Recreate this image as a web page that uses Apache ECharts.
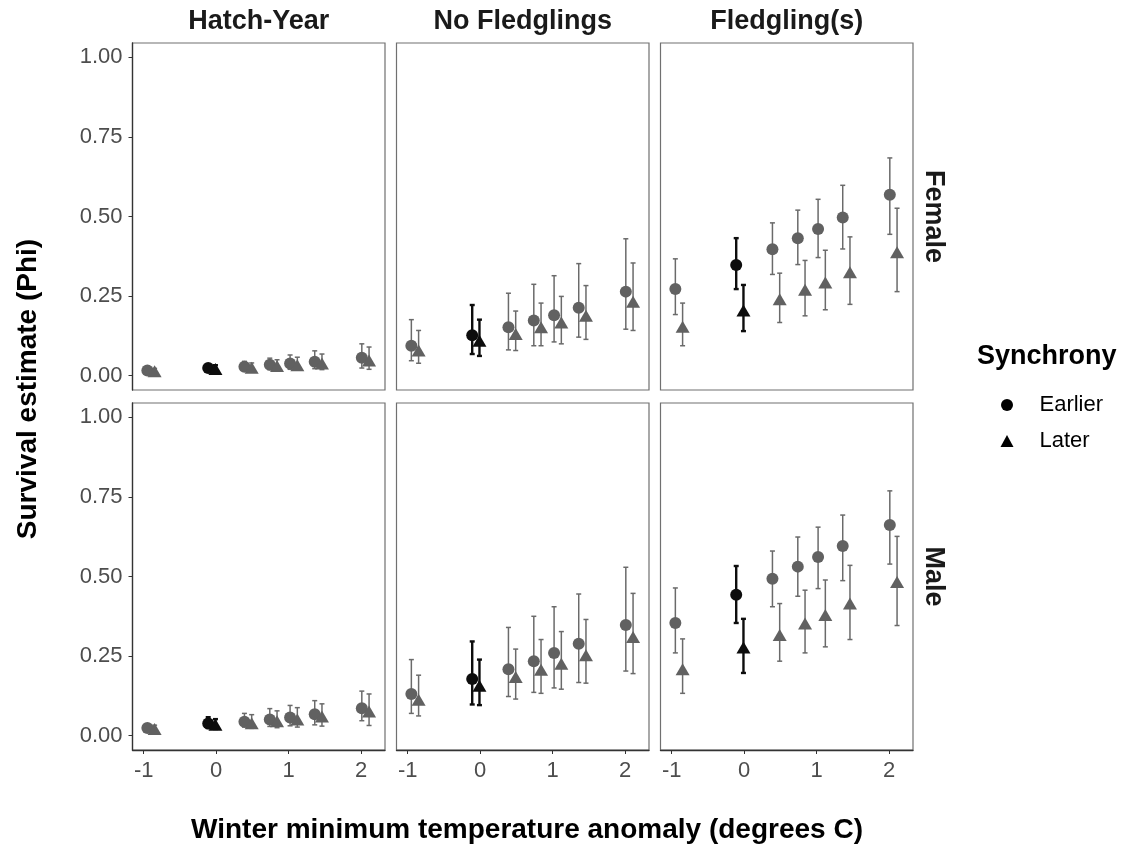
<!DOCTYPE html>
<html>
<head>
<meta charset="utf-8">
<title>Survival estimate by winter temperature</title>
<script src="https://cdn.jsdelivr.net/npm/echarts@6/dist/echarts.min.js"></script>
<style>
  html, body { margin: 0; padding: 0; background: #fff; }
  #chart { width: 1143px; height: 852px; }
</style>
</head>
<body>
<div id="chart"></div>
<script>
// winter minimum temperature anomaly for each estimate (before dodging)
const temperature = [-0.9, -0.06, 0.44, 0.79, 1.07, 1.41, 2.06]
const highlightIndex = 1 // the darker estimate near 0
const columns = ['Hatch-Year', 'No Fledglings', 'Fledgling(s)']
const rows = ['Female', 'Male']
const xTicks = [-1, 0, 1, 2]
const yTicks = [0, 0.25, 0.5, 0.75, 1]

// [estimate, lower, upper]
const femaleHatchEarlier = [[0.016, 0.010, 0.025], [0.024, 0.015, 0.036], [0.028, 0.017, 0.045], [0.034, 0.019, 0.055], [0.038, 0.020, 0.065], [0.044, 0.022, 0.078], [0.056, 0.024, 0.100]]
const femaleHatchLater = [[0.014, 0.008, 0.023], [0.021, 0.013, 0.033], [0.025, 0.015, 0.040], [0.030, 0.016, 0.050], [0.033, 0.017, 0.058], [0.038, 0.019, 0.068], [0.048, 0.020, 0.090]]
const femaleNoFledgEarlier = [[0.094, 0.047, 0.176], [0.127, 0.068, 0.222], [0.152, 0.081, 0.259], [0.173, 0.094, 0.287], [0.190, 0.106, 0.314], [0.213, 0.121, 0.352], [0.264, 0.146, 0.430]]
const femaleNoFledgLater = [[0.079, 0.039, 0.142], [0.110, 0.062, 0.176], [0.131, 0.079, 0.203], [0.152, 0.094, 0.228], [0.167, 0.100, 0.249], [0.188, 0.114, 0.283], [0.232, 0.142, 0.354]]
const femaleFledgEarlier = [[0.272, 0.192, 0.367], [0.348, 0.272, 0.432], [0.397, 0.318, 0.480], [0.432, 0.349, 0.520], [0.461, 0.371, 0.554], [0.497, 0.398, 0.598], [0.568, 0.444, 0.684]]
const femaleFledgLater = [[0.154, 0.094, 0.228], [0.205, 0.140, 0.285], [0.240, 0.167, 0.322], [0.270, 0.188, 0.362], [0.293, 0.207, 0.394], [0.325, 0.224, 0.436], [0.388, 0.264, 0.526]]
const maleHatchEarlier = [[0.024, 0.015, 0.036], [0.038, 0.024, 0.058], [0.044, 0.027, 0.070], [0.051, 0.029, 0.085], [0.057, 0.031, 0.095], [0.067, 0.034, 0.110], [0.086, 0.047, 0.140]]
const maleHatchLater = [[0.021, 0.013, 0.033], [0.034, 0.021, 0.052], [0.039, 0.023, 0.066], [0.045, 0.025, 0.078], [0.051, 0.027, 0.088], [0.060, 0.030, 0.100], [0.076, 0.032, 0.131]]
const maleNoFledgEarlier = [[0.131, 0.070, 0.239], [0.178, 0.098, 0.296], [0.209, 0.123, 0.340], [0.234, 0.136, 0.375], [0.260, 0.150, 0.405], [0.289, 0.167, 0.445], [0.348, 0.203, 0.529]]
const maleNoFledgLater = [[0.113, 0.062, 0.190], [0.157, 0.096, 0.239], [0.184, 0.115, 0.272], [0.207, 0.133, 0.302], [0.226, 0.146, 0.327], [0.253, 0.165, 0.365], [0.310, 0.195, 0.447]]
const maleFledgEarlier = [[0.354, 0.260, 0.464], [0.443, 0.354, 0.533], [0.493, 0.405, 0.580], [0.531, 0.438, 0.624], [0.561, 0.462, 0.655], [0.596, 0.487, 0.693], [0.662, 0.539, 0.769]]
const maleFledgLater = [[0.209, 0.133, 0.304], [0.277, 0.197, 0.367], [0.316, 0.234, 0.415], [0.352, 0.260, 0.457], [0.379, 0.279, 0.489], [0.415, 0.302, 0.535], [0.483, 0.346, 0.626]]

const panels = [
  { row: 0, col: 0, earlier: femaleHatchEarlier, later: femaleHatchLater },
  { row: 0, col: 1, earlier: femaleNoFledgEarlier, later: femaleNoFledgLater },
  { row: 0, col: 2, earlier: femaleFledgEarlier, later: femaleFledgLater },
  { row: 1, col: 0, earlier: maleHatchEarlier, later: maleHatchLater },
  { row: 1, col: 1, earlier: maleNoFledgEarlier, later: maleNoFledgLater },
  { row: 1, col: 2, earlier: maleFledgEarlier, later: maleFledgLater }
]

const FONT = '"Liberation Sans", Arial, sans-serif'
const GREY = '#616161'
const DARK = '#0d0d0d'
const dodge = 0.05
const lefts = [132.5, 396.5, 660.5]
const tops = [43, 403]
const panelW = 252.5
const panelH = 347

const chart = echarts.init(document.getElementById('chart'))

function errorBar(params, api) {
  const x = api.value(0)
  const lo = api.coord([x, api.value(1)])
  const hi = api.coord([x, api.value(2)])
  const dark = api.value(3) === highlightIndex
  const style = { stroke: dark ? DARK : '#6a6a6a', lineWidth: dark ? 2.4 : 1.5 }
  const cap = 2.5
  return {
    type: 'group',
    children: [
      { type: 'line', shape: { x1: lo[0], y1: lo[1], x2: hi[0], y2: hi[1] }, style: style },
      { type: 'line', shape: { x1: lo[0] - cap, y1: lo[1], x2: lo[0] + cap, y2: lo[1] }, style: style },
      { type: 'line', shape: { x1: hi[0] - cap, y1: hi[1], x2: hi[0] + cap, y2: hi[1] }, style: style }
    ]
  }
}

const grid = [], xAxis = [], yAxis = [], series = []

panels.forEach((p, i) => {
  const bottomRow = p.row === 1
  const firstCol = p.col === 0
  grid.push({
    left: lefts[p.col], top: tops[p.row], width: panelW, height: panelH,
    show: true, borderColor: '#707070', borderWidth: 1.2, backgroundColor: '#fff'
  })
  xAxis.push({
    gridIndex: i, type: 'value', min: -1.155, max: 2.33,
    splitLine: { show: false },
    axisLine: { show: bottomRow, onZero: false, lineStyle: { color: '#333', width: 1.3 } },
    axisTick: { show: bottomRow, length: 4, customValues: xTicks, lineStyle: { color: '#333' } },
    axisLabel: {
      show: bottomRow, customValues: xTicks, margin: 10,
      fontSize: 22, color: '#4d4d4d', fontFamily: FONT
    }
  })
  yAxis.push({
    gridIndex: i, type: 'value', min: -0.045, max: 1.045,
    splitLine: { show: false },
    axisLine: { show: firstCol, onZero: false, lineStyle: { color: '#333', width: 1.3 } },
    axisTick: { show: firstCol, length: 4, customValues: yTicks, lineStyle: { color: '#333' } },
    axisLabel: {
      show: firstCol, customValues: yTicks, margin: 10,
      fontSize: 22, color: '#4d4d4d', fontFamily: FONT,
      formatter: v => v.toFixed(2)
    }
  })

  const groups = [
    { name: 'Earlier', rows: p.earlier, shift: -dodge, symbol: 'circle', size: 12 },
    { name: 'Later', rows: p.later, shift: dodge, symbol: 'triangle', size: [14, 12] }
  ]
  groups.forEach(g => {
    series.push({
      name: g.name, type: 'custom', xAxisIndex: i, yAxisIndex: i,
      renderItem: errorBar,
      encode: { x: 0, y: [1, 2] },
      data: g.rows.map((r, k) => [temperature[k] + g.shift, r[1], r[2], k]),
      z: 2, silent: true
    })
  })
  groups.forEach(g => {
    series.push({
      name: g.name, type: 'scatter', xAxisIndex: i, yAxisIndex: i,
      symbol: g.symbol, symbolSize: g.size,
      itemStyle: { color: prm => (prm.dataIndex === highlightIndex ? DARK : GREY), opacity: 1 },
      data: g.rows.map((r, k) => [temperature[k] + g.shift, r[0]]),
      z: 3
    })
  })
})

const titleFont = 'bold 27px ' + FONT
const graphic = []
columns.forEach((c, j) => {
  graphic.push({
    type: 'text', x: lefts[j] + panelW / 2, y: 22,
    style: { text: c, font: titleFont, fill: '#1a1a1a', align: 'center', verticalAlign: 'middle' }
  })
})
rows.forEach((r, j) => {
  graphic.push({
    type: 'text', x: 933, y: tops[j] + panelH / 2, rotation: -Math.PI / 2,
    style: { text: r, font: titleFont, fill: '#1a1a1a', align: 'center', verticalAlign: 'middle' }
  })
})
graphic.push({
  type: 'text', x: 527, y: 830,
  style: { text: 'Winter minimum temperature anomaly (degrees C)', font: 'bold 28px ' + FONT, fill: '#000', align: 'center', verticalAlign: 'middle' }
})
graphic.push({
  type: 'text', x: 28, y: 389, rotation: Math.PI / 2,
  style: { text: 'Survival estimate (Phi)', font: 'bold 28px ' + FONT, fill: '#000', align: 'center', verticalAlign: 'middle' }
})
graphic.push({
  type: 'text', x: 977, y: 357,
  style: { text: 'Synchrony', font: 'bold 27px ' + FONT, fill: '#000', align: 'left', verticalAlign: 'middle' }
})

option = {
  backgroundColor: '#fff',
  animation: false,
  grid: grid,
  xAxis: xAxis,
  yAxis: yAxis,
  legend: {
    orient: 'vertical', left: 995.5, top: 388,
    itemWidth: 13, itemHeight: 12, itemGap: 12,
    textStyle: { fontSize: 22, color: '#000', fontFamily: FONT, lineHeight: 24, padding: [0, 0, 0, 21] },
    data: [
      { name: 'Earlier', icon: 'circle', itemStyle: { color: '#000' } },
      { name: 'Later', icon: 'triangle', itemStyle: { color: '#000' } }
    ]
  },
  graphic: graphic,
  series: series
}

option && chart.setOption(option)
</script>
</body>
</html>
